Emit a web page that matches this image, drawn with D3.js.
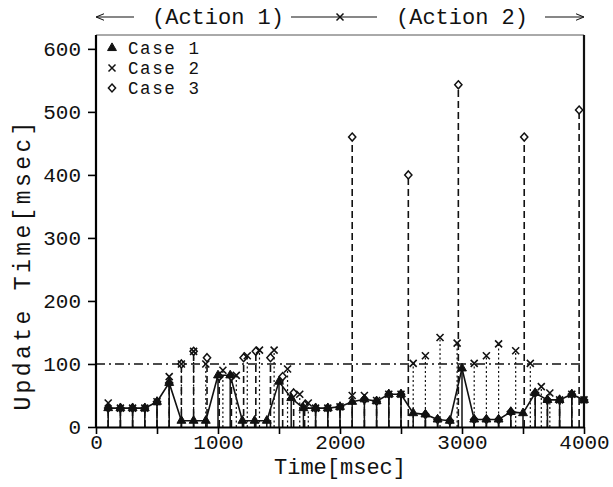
<!DOCTYPE html>
<html>
<head>
<meta charset="utf-8">
<script src="https://cdn.jsdelivr.net/npm/d3@7"></script>
<style>
  body { margin: 0; background: #fff; }
  text { font-family: "Liberation Mono", "Courier New", monospace; fill: #111; }
</style>
</head>
<body>
<div id="chart"></div>
<script>
/**
 * CONSTANTS
 * */
const width = 613,
  height = 487,
  margin = { top: 35, right: 29, bottom: 60, left: 96 };

/**
 * DATA
 * */
// Case 1: triangles, joined by a line, solid stems
const case1Time = [100, 200, 300, 400, 500, 600, 700, 800, 900, 1000,
  1100, 1200, 1300, 1400, 1500, 1600, 1700, 1800, 1900, 2000,
  2100, 2200, 2300, 2400, 2500, 2600, 2700, 2800, 2900, 3000,
  3100, 3200, 3300, 3400, 3500, 3600, 3700, 3800, 3900, 4000];
const case1Value = [30, 30, 30, 30, 40, 70, 10, 10, 10, 82,
  82, 10, 10, 10, 72, 46, 30, 30, 30, 32,
  40, 44, 41, 52, 52, 22, 20, 12, 10, 93,
  12, 12, 12, 24, 22, 54, 43, 43, 52, 43];

// Case 2: crosses, dotted stems
const case2Time = [100, 200, 300, 400, 500, 600, 700, 800, 900,
  1040, 1150, 1240, 1340, 1460, 1570, 1670, 1740, 1800, 1900, 2000,
  2100, 2200, 2300, 2400, 2500, 2600, 2700, 2820, 2960,
  3100, 3200, 3300, 3440, 3560, 3650, 3720, 3800, 3900, 4000];
const case2Value = [38, 30, 30, 30, 40, 80, 100, 120, 100,
  90, 82, 113, 122, 122, 92, 52, 38, 30, 30, 32,
  50, 50, 42, 52, 52, 101, 113, 142, 133,
  101, 113, 132, 121, 101, 64, 54, 43, 52, 43];

// Case 3: diamonds, dashed stems
const case3Time = [100, 200, 300, 400, 500, 600, 700, 800,
  910, 1010, 1110, 1210, 1310, 1430, 1530, 1620, 1710, 1800, 1900, 2000,
  2100, 2200, 2300, 2400, 2500, 2560, 2700, 2800, 2900, 2970,
  3100, 3200, 3300, 3400, 3510, 3600, 3700, 3800, 3900, 3960, 4000];
const case3Value = [30, 30, 30, 30, 40, 70, 100, 120,
  110, 80, 80, 110, 120, 110, 80, 54, 35, 30, 30, 32,
  460, 44, 41, 52, 52, 400, 20, 12, 10, 543,
  12, 12, 12, 24, 460, 54, 43, 43, 52, 503, 43];

const xTicks = [0, 500, 1000, 1500, 2000, 2500, 3000, 3500, 4000];
const yTicks = [0, 100, 200, 300, 400, 500, 600];
const refValue = 100;
const actionSplit = 2000;
const legendLabels = ["Case 1", "Case 2", "Case 3"];

const zip = (t, v) => t.map((d, i) => ({ t: d, v: v[i] }));
const case1 = zip(case1Time, case1Value);
const case2 = zip(case2Time, case2Value);
const case3 = zip(case3Time, case3Value);

/**
 * SCALES
 * */
const x = d3.scaleLinear().domain([0, 4000]).range([margin.left, width - margin.right]);
const y = d3.scaleLinear().domain([0, 622]).range([height - margin.bottom, margin.top]);

const svg = d3.select("#chart").append("svg")
  .attr("width", width)
  .attr("height", height);

// frame: thin top, heavy right
svg.append("line")
  .attr("x1", x(0)).attr("x2", x(4000))
  .attr("y1", y(622)).attr("y2", y(622))
  .attr("stroke", "#555").attr("stroke-width", 1);
svg.append("line")
  .attr("x1", x(4000)).attr("x2", x(4000))
  .attr("y1", y(622)).attr("y2", y(0))
  .attr("stroke", "#111").attr("stroke-width", 2.2);

// stems
function stems(data, cls, dash, sw) {
  svg.append("g").selectAll("line")
    .data(data)
    .join("line")
    .attr("class", cls)
    .attr("x1", d => x(d.t)).attr("x2", d => x(d.t))
    .attr("y1", y(0)).attr("y2", d => y(d.v))
    .attr("stroke", "#111")
    .attr("stroke-width", sw)
    .attr("stroke-dasharray", dash);
}
stems(case1, "stem1", null, 1.5);
stems(case3, "stem3", "7,4", 1.6);
stems(case2, "stem2", "2,2.5", 1.2);

// reference line at 100 (dash-dot)
svg.append("line")
  .attr("x1", x(0)).attr("x2", x(4000))
  .attr("y1", y(refValue)).attr("y2", y(refValue))
  .attr("stroke", "#111")
  .attr("stroke-width", 1.3)
  .attr("stroke-dasharray", "9,4,2,4");

// case 1 line
svg.append("path")
  .datum(case1)
  .attr("fill", "none")
  .attr("stroke", "#111")
  .attr("stroke-width", 1.6)
  .attr("d", d3.line().x(d => x(d.t)).y(d => y(d.v)));

// markers
const tri = d3.symbol().type(d3.symbolTriangle).size(34)();
const dia = "M0,-4L3.6,0L0,4L-3.6,0Z";
const crs = "M-3.5,-3.5L3.5,3.5M-3.5,3.5L3.5,-3.5";

function markers(data, path, fill, sw) {
  svg.append("g").selectAll("path")
    .data(data)
    .join("path")
    .attr("transform", d => `translate(${x(d.t)},${y(d.v)})`)
    .attr("d", path)
    .attr("fill", fill)
    .attr("stroke", "#111")
    .attr("stroke-width", sw);
}
markers(case3, dia, "#fff", 1.5);
markers(case2, crs, "none", 1.6);
markers(case1, tri, "#111", 1);

// axes
const xAxis = d3.axisBottom(x)
  .tickValues(xTicks)
  .tickSize(7)
  .tickSizeOuter(0)
  .tickPadding(0)
  .tickFormat(d => d % 1000 === 0 ? d : "");
svg.append("g")
  .attr("transform", `translate(0,${y(0)})`)
  .call(xAxis)
  .call(g => g.select(".domain").attr("stroke-width", 2.2))
  .call(g => g.selectAll(".tick line").attr("stroke-width", 1.6))
  .call(g => g.selectAll("text").attr("font-size", 21).attr("font-family", null));

const yAxis = d3.axisLeft(y)
  .tickValues(yTicks)
  .tickSize(8)
  .tickSizeOuter(0)
  .tickPadding(7);
svg.append("g")
  .attr("transform", `translate(${x(0)},0)`)
  .call(yAxis)
  .call(g => g.select(".domain").attr("stroke-width", 2.2).attr("d", `M0,${y(622)}V${y(0)}`))
  .call(g => g.selectAll(".tick line").attr("stroke-width", 1.6))
  .call(g => g.selectAll("text").attr("font-size", 21).attr("font-family", null));

// axis titles
svg.append("text")
  .attr("x", x(2000)).attr("y", 474)
  .attr("text-anchor", "middle")
  .attr("font-size", 22)
  .text("Time[msec]");
svg.append("text")
  .attr("transform", `translate(30,${y(258)}) rotate(-90)`)
  .attr("text-anchor", "middle")
  .attr("font-size", 23)
  .attr("letter-spacing", 3.4)
  .text("Update Time[msec]");

// legend
const legend = svg.append("g");
const legendShapes = [tri, crs, dia];
const legendFill = ["#111", "none", "#fff"];
legendLabels.forEach((lab, i) => {
  const ly = 48 + i * 20;
  legend.append("path")
    .attr("transform", `translate(112,${ly})`)
    .attr("d", legendShapes[i])
    .attr("fill", legendFill[i])
    .attr("stroke", "#111")
    .attr("stroke-width", i === 0 ? 1 : 1.5);
  legend.append("text")
    .attr("x", 128).attr("y", ly + 6)
    .attr("font-size", 17.5)
    .attr("letter-spacing", 1.6)
    .text(lab);
});

// action annotation along the top
const ay = 17, half = 66;
const defs = svg.append("defs");
defs.append("marker")
  .attr("id", "head")
  .attr("viewBox", "0 0 10 10")
  .attr("refX", 10).attr("refY", 5)
  .attr("markerWidth", 7).attr("markerHeight", 7)
  .attr("orient", "auto-start-reverse")
  .append("path")
  .attr("d", "M0,1L10,5L0,9")
  .attr("fill", "none")
  .attr("stroke", "#111")
  .attr("stroke-width", 1.2);

svg.append("line")
  .attr("x1", x(1000) - half - 18).attr("x2", x(0))
  .attr("y1", ay).attr("y2", ay)
  .attr("stroke", "#111").attr("stroke-width", 1.2)
  .attr("marker-end", "url(#head)");
svg.append("line")
  .attr("x1", x(3000) + half + 17).attr("x2", x(4000))
  .attr("y1", ay).attr("y2", ay)
  .attr("stroke", "#111").attr("stroke-width", 1.2)
  .attr("marker-end", "url(#head)");
svg.append("line")
  .attr("x1", x(1000) + half + 7).attr("x2", x(3000) - half - 19)
  .attr("y1", ay).attr("y2", ay)
  .attr("stroke", "#111").attr("stroke-width", 1.2);
svg.append("path")
  .attr("transform", `translate(${x(actionSplit)},${ay})`)
  .attr("d", crs)
  .attr("stroke", "#111").attr("stroke-width", 1.5);

svg.append("text")
  .attr("x", x(1000)).attr("y", ay + 7)
  .attr("text-anchor", "middle")
  .attr("font-size", 22)
  .text("(Action 1)");
svg.append("text")
  .attr("x", x(3000)).attr("y", ay + 7)
  .attr("text-anchor", "middle")
  .attr("font-size", 22)
  .text("(Action 2)");
</script>
</body>
</html>
